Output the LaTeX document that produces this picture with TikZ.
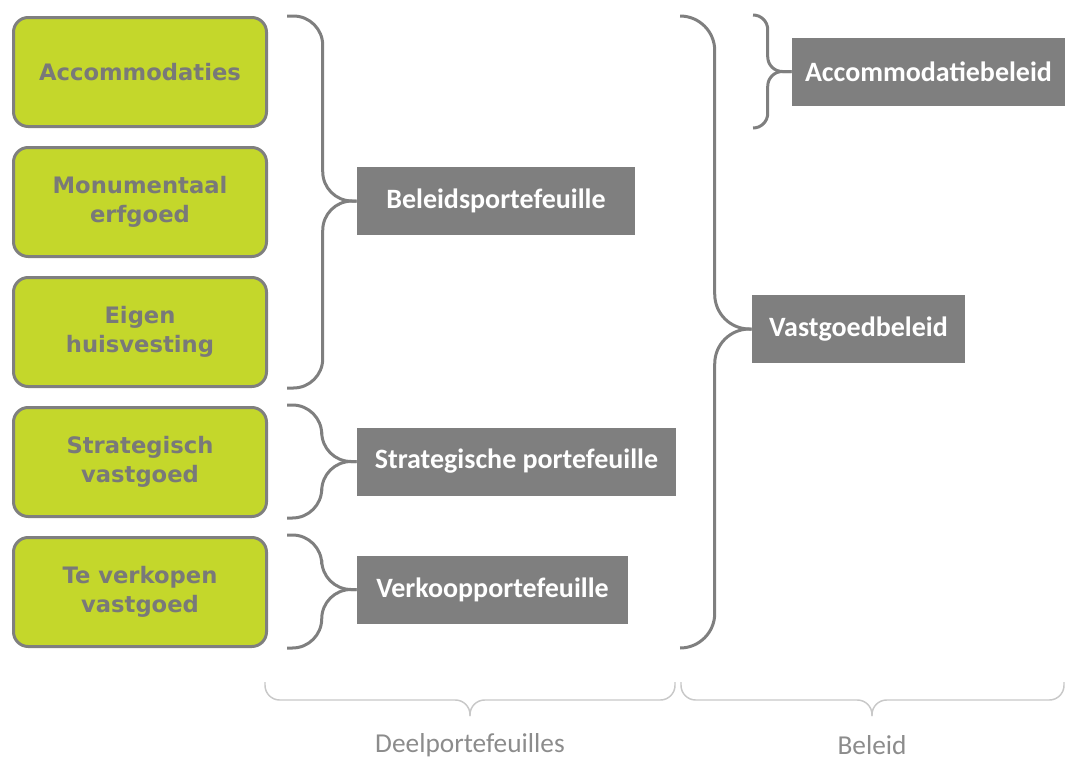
\documentclass[tikz,border=0pt]{standalone}
\usepackage{fontspec}
\setmainfont{Carlito}
\newfontfamily\verdana{DejaVu Sans}
\usetikzlibrary{calc}
\definecolor{lime}{RGB}{196,215,43}
\definecolor{boxgray}{RGB}{127,127,127}
\definecolor{softgray}{RGB}{200,200,200}
\definecolor{labelgray}{RGB}{140,140,140}

\begin{document}
\begin{tikzpicture}[
  x = 0.75pt, y = -0.75pt,
  part/.style = {draw = boxgray, fill = lime, line width = 2.25pt, rounded corners = 11pt,
                 minimum width = 189.75pt, minimum height = 81.75pt, align = center,
                 text = boxgray!95!black, font = \verdana\bfseries\fontsize{17}{22}\selectfont},
  group/.style = {fill = boxgray, text = white, inner sep = 0pt, minimum height = 51pt,
                  font = \bfseries\fontsize{21}{24}\selectfont},
  curl/.style = {draw = boxgray, line width = 2.25pt, rounded corners = 22pt},
  thin curl/.style = {draw = softgray, line width = 1.1pt, rounded corners = 11pt},
  caption/.style = {text = labelgray, font = \fontsize{20.5}{24}\selectfont},
  ]
  \useasboundingbox (0,0) rectangle (1068,760);

  % deelportefeuilles
  \node[part] (acc)  at (140,72)  {Accommodaties};
  \node[part] (mon)  at (140,202) {Monumentaal\\erfgoed};
  \node[part] (huis) at (140,332) {Eigen\\huisvesting};
  \node[part] (strv) at (140,462) {Strategisch\\vastgoed};
  \node[part] (verv) at (140,592) {Te verkopen\\vastgoed};

  \node[group, minimum width = 208.5pt]  (bel)   at (496,201)   {Beleidsportefeuille};
  \node[group, minimum width = 239.25pt] (strat) at (516.5,461.5) {Strategische portefeuille};
  \node[group, minimum width = 203.25pt] (verk)  at (492.5,589.5) {Verkoopportefeuille};

  % beleid
  \node[group, minimum width = 159.75pt] (vast) at (858.5,329)  {Vastgoedbeleid};
  \node[group, minimum width = 204.75pt] (accb) at (928.5,71.5) {Accommodatiebeleid};

  % braces
  \coordinate (b1t) at (287,16);
  \coordinate (b1b) at (287,388);
  \draw[curl] (b1t) -| ($(bel.west)+(-34,0)$) -- (bel.west);
  \draw[curl] (b1b) -| ($(bel.west)+(-34,0)$) -- (bel.west);

  \coordinate (b2t) at (287,405);
  \coordinate (b2b) at (287,518);
  \draw[curl] (b2t) -| ($(strat.west)+(-35,0)$) -- (strat.west);
  \draw[curl] (b2b) -| ($(strat.west)+(-35,0)$) -- (strat.west);

  \coordinate (b3t) at (287,535);
  \coordinate (b3b) at (287,648);
  \draw[curl] (b3t) -| ($(verk.west)+(-35,0)$) -- (verk.west);
  \draw[curl] (b3b) -| ($(verk.west)+(-35,0)$) -- (verk.west);

  \coordinate (b4t) at (680,16);
  \coordinate (b4b) at (680,648);
  \draw[curl, rounded corners = 26pt] (b4t) -| ($(vast.west)+(-37,0)$) -- (vast.west);
  \draw[curl, rounded corners = 26pt] (b4b) -| ($(vast.west)+(-37,0)$) -- (vast.west);

  \coordinate (b5t) at (753,15);
  \coordinate (b5b) at (753,128);
  \draw[curl, rounded corners = 11pt] (b5t) -| ($(accb.west)+(-24,0)$) -- (accb.west);
  \draw[curl, rounded corners = 11pt] (b5b) -| ($(accb.west)+(-24,0)$) -- (accb.west);

  % captions
  \node[caption] (deel) at (470,745) {Deelportefeuilles};
  \node[caption] (bld)  at (872,745) {Beleid};

  \coordinate (d1l) at (265,682);
  \coordinate (d1r) at (675,682);
  \coordinate (d1) at (470,716);
  \draw[thin curl] (d1l) |- ($(d1)+(0,-16)$) -- (d1);
  \draw[thin curl] (d1r) |- ($(d1)+(0,-16)$) -- (d1);

  \coordinate (d2l) at (681,682);
  \coordinate (d2r) at (1064,682);
  \coordinate (d2) at (872,716);
  \draw[thin curl] (d2l) |- ($(d2)+(0,-16)$) -- (d2);
  \draw[thin curl] (d2r) |- ($(d2)+(0,-16)$) -- (d2);
\end{tikzpicture}
\end{document}
